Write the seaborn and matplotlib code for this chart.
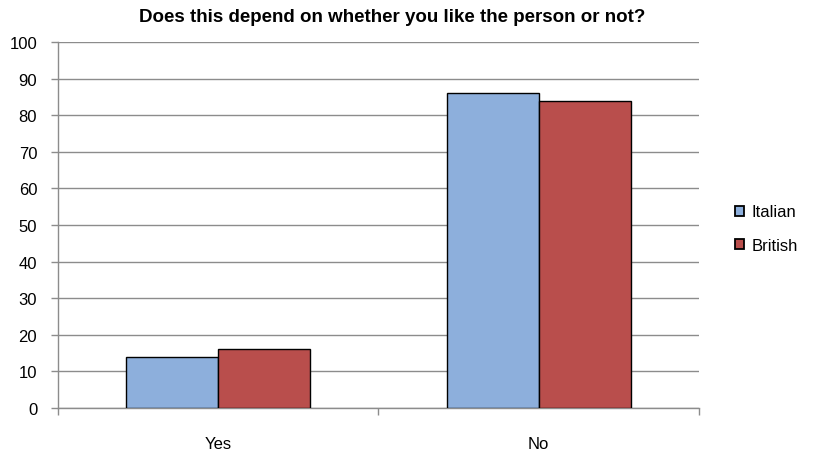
import matplotlib
matplotlib.use("Agg")
import matplotlib.pyplot as plt
import seaborn as sns
import pandas as pd
from matplotlib.ticker import FixedLocator, NullFormatter

# Survey answers (percent) by nationality
categories = ["Yes", "No"]
italian = [14, 86]
british = [16, 84]
groups = ["Italian", "British"]
colors = ["#8DAFDC", "#B94E4C"]
title = "Does this depend on whether you like the person or not?"

df = pd.DataFrame({
    "answer": categories * 2,
    "value": italian + british,
    "group": [groups[0]] * len(categories) + [groups[1]] * len(categories),
})

sns.set_theme(style="white")
plt.rcParams["font.family"] = ["Liberation Sans", "DejaVu Sans"]
plt.rcParams["text.color"] = "black"

fig = plt.figure(figsize=(8.18, 4.52), dpi=100)
ax = fig.add_axes([58 / 818, 1 - 409 / 452, 641 / 818, 366 / 452])

sns.barplot(data=df, x="answer", y="value", hue="group", order=categories,
            hue_order=groups, palette=colors, width=0.575, saturation=1,
            edgecolor="black", linewidth=1.0, ax=ax, zorder=3)

ax.set_xlim(-0.5, 1.5)
ax.set_ylim(0, 100)
ax.set_yticks(range(0, 101, 10))
ax.yaxis.grid(True, color="#8C8C8C", linewidth=1.0, zorder=0)
ax.set_axisbelow(True)

for side in ["top", "right"]:
    ax.spines[side].set_visible(False)
for side in ["left", "bottom"]:
    ax.spines[side].set_color("#8C8C8C")
    ax.spines[side].set_linewidth(1.0)

ax.tick_params(axis="y", which="major", left=True, length=5, width=1,
               color="#8C8C8C", labelsize=12, pad=10, labelcolor="black")
ax.tick_params(axis="x", which="major", bottom=False, length=0, labelsize=12,
               pad=20, labelcolor="black")
ax.xaxis.set_minor_locator(FixedLocator([-0.5, 0.5, 1.5]))
ax.xaxis.set_minor_formatter(NullFormatter())
ax.tick_params(axis="x", which="minor", bottom=True, length=5, width=1,
               color="#8C8C8C")

ax.set_xlabel("")
ax.set_ylabel("")
fig.suptitle(title, x=392 / 818, y=1 - 9 / 452, va="top",
             fontsize=13.5, fontweight="bold", color="black")

leg = ax.legend(loc="center left", bbox_to_anchor=(1.033, 0.49), frameon=False,
                fontsize=12, handlelength=0.55, handleheight=0.55,
                handletextpad=0.45, labelspacing=1.1)
for txt in leg.get_texts():
    txt.set_color("black")
for patch in leg.get_patches():
    patch.set_linewidth(1.3)

fig.savefig("out.png", dpi=100)
